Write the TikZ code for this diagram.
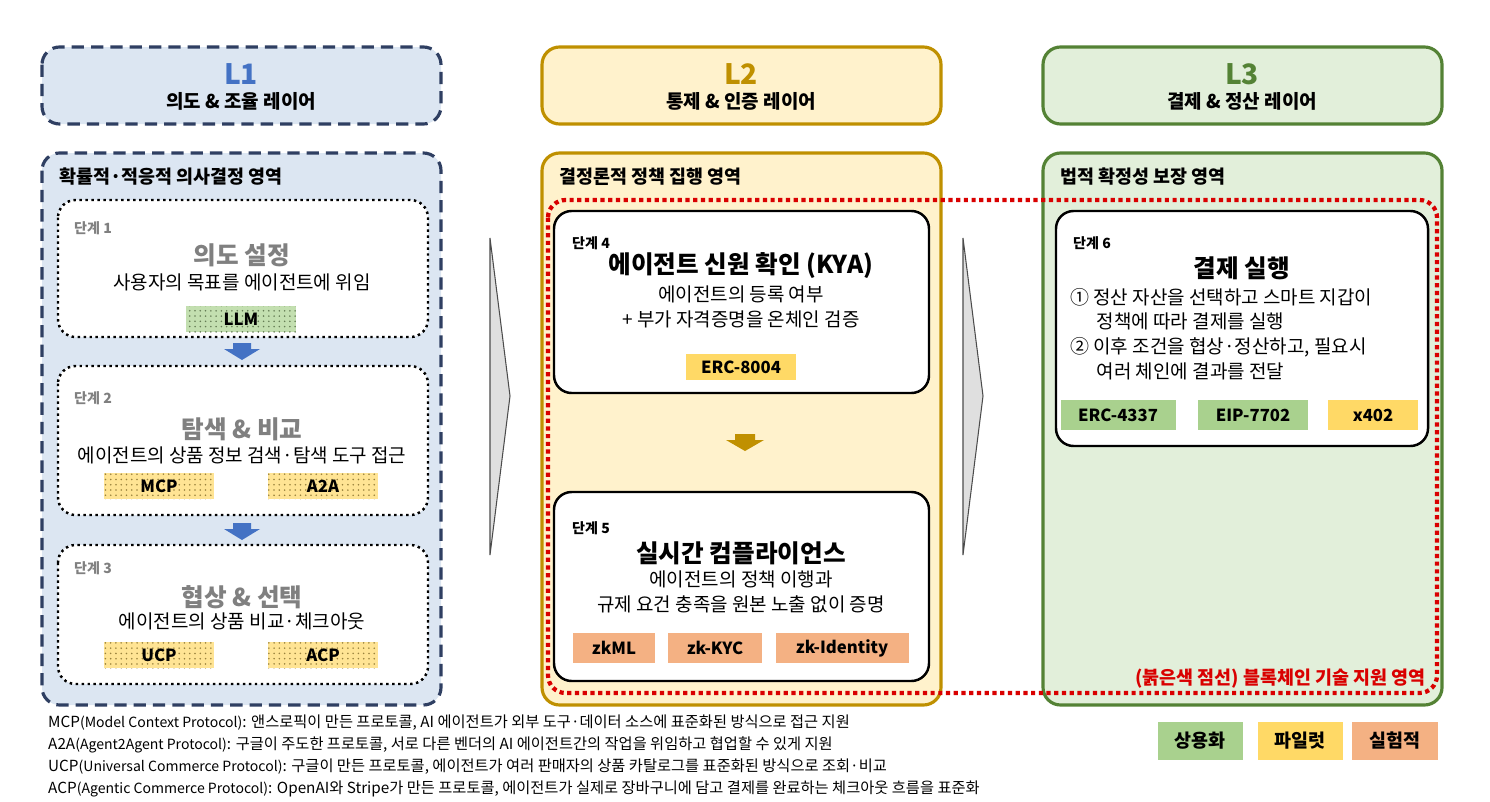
\documentclass[tikz,border=0pt]{standalone}
\usepackage{fontspec}
\setmainfont{Noto Sans CJK KR}
\usetikzlibrary{positioning,patterns,arrows.meta}
\definecolor{navy}{HTML}{2F3F62}
\definecolor{lblue}{HTML}{DCE6F2}
\definecolor{tblue}{HTML}{4472C4}
\definecolor{gold}{HTML}{BF9000}
\definecolor{lyellow}{HTML}{FFF2CC}
\definecolor{dgreen}{HTML}{548235}
\definecolor{lgreen}{HTML}{E2EFDA}
\definecolor{tgreen}{HTML}{A9D18E}
\definecolor{tyellow}{HTML}{FFD966}
\definecolor{tsalmon}{HTML}{F4B183}
\definecolor{agold}{HTML}{C09000}
\tikzset{
  hdr/.style={rounded corners=10pt,line width=1.8pt},
  stagebox/.style={rounded corners=10pt,fill=white},
  tag/.style={minimum height=0.52cm,font=\fontsize{9.5}{10}\selectfont\bfseries,inner sep=0pt},
  stepno/.style={anchor=west,font=\fontsize{8}{8}\selectfont\bfseries},
  stitle/.style={font=\fontsize{14}{15}\selectfont\bfseries},
  body/.style={font=\fontsize{10.8}{12}\selectfont},
  area/.style={anchor=west,font=\fontsize{10.5}{11}\selectfont\bfseries},
  note/.style={anchor=west,font=\fontsize{8.7}{9}\selectfont},
}
\begin{document}
\begin{tikzpicture}[x=0.02cm,y=-0.02cm]
  \useasboundingbox (0,0) rectangle (1490,801);

  % layer headers
  \draw[hdr,navy,dashed,dash pattern=on 7pt off 4pt,fill=lblue] (42,47) rectangle (441,124);
  \draw[hdr,gold,fill=lyellow] (542,47) rectangle (941,124);
  \draw[hdr,dgreen,fill=lgreen] (1043,47) rectangle (1442,124);
  \foreach \n/\x/\c/\t in {1/241/tblue/의도 \& 조율 레이어,2/741/gold/통제 \& 인증 레이어,3/1242/dgreen/결제 \& 정산 레이어} {
    \node[text=\c,font=\fontsize{16}{17}\selectfont\bfseries] (lay\n) at (\x,74) {L\n};
    \node[font=\fontsize{10.8}{11}\selectfont\bfseries] (layname\n) at (\x,101) {\t};
  }

  % areas
  \draw[hdr,navy,dashed,dash pattern=on 7pt off 4pt,fill=lblue] (42,153) rectangle (441,705);
  \draw[hdr,gold,fill=lyellow] (542,153) rectangle (941,705);
  \draw[hdr,dgreen,fill=lgreen] (1043,153) rectangle (1442,705);
  \node[area] (area1) at (53,177) {확률적·적응적 의사결정 영역};
  \node[area] (area2) at (553,177) {결정론적 정책 집행 영역};
  \node[area] (area3) at (1054,177) {법적 확정성 보장 영역};

  % L1 stages
  \draw[stagebox,dotted,line width=1.4pt] (58,200) rectangle (428,337);
  \draw[stagebox,dotted,line width=1.4pt] (58,366) rectangle (428,515);
  \draw[stagebox,dotted,line width=1.4pt] (58,545) rectangle (428,684);
  \node[stepno,text=gray] (s1) at (68,228) {단계 1};
  \node[stitle,text=gray] (t1) at (242,255) {의도 설정};
  \node[body] (b1) at (242,282) {사용자의 목표를 에이전트에 위임};
  \node[tag,fill=tgreen!70,minimum width=2.2cm,postaction={pattern=dots,pattern color=tgreen!60!black}] (llm) at (241,319) {LLM};
  \node[stepno,text=gray] (s2) at (68,398) {단계 2};
  \node[stitle,text=gray] (t2) at (242,429) {탐색 \& 비교};
  \node[body] (b2) at (242,455) {에이전트의 상품 정보 검색·탐색 도구 접근};
  \node[tag,fill=tyellow!70,minimum width=2.2cm,postaction={pattern=dots,pattern color=tyellow!60!black}] (mcp) at (159,486) {MCP};
  \node[tag,fill=tyellow!70,minimum width=2.2cm,postaction={pattern=dots,pattern color=tyellow!60!black}] (a2a) at (323,486) {A2A};
  \node[stepno,text=gray] (s3) at (68,568) {단계 3};
  \node[stitle,text=gray] (t3) at (242,597) {협상 \& 선택};
  \node[body] (b3) at (242,621) {에이전트의 상품 비교·체크아웃};
  \node[tag,fill=tyellow!70,minimum width=2.2cm,postaction={pattern=dots,pattern color=tyellow!60!black}] (ucp) at (159,655) {UCP};
  \node[tag,fill=tyellow!70,minimum width=2.2cm,postaction={pattern=dots,pattern color=tyellow!60!black}] (acp) at (323,655) {ACP};
  \foreach \y in {343,523} {
    \fill[tblue] (233,\y) rectangle (251,\y+6) (224,\y+6) -- (260,\y+6) -- (242,\y+17) -- cycle;
  }

  % L2 stages
  \draw[stagebox,line width=1.4pt] (554,211) rectangle (929,393);
  \node[stepno] (s4) at (566,243) {단계 4};
  \node[stitle] (t4) at (741,266) {에이전트 신원 확인 (KYA)};
  \node[body] (b4a) at (741,294) {에이전트의 등록 여부};
  \node[body] (b4b) at (741,319) {+ 부가 자격증명을 온체인 검증};
  \node[tag,fill=tyellow,minimum width=2.2cm] (erc8004) at (741,367) {ERC-8004};
  \fill[agold] (735,434) rectangle (755,440) (726,440) -- (764,440) -- (745,451) -- cycle;
  \draw[stagebox,line width=1.4pt] (554,492) rectangle (929,681);
  \node[stepno] (s5) at (566,528) {단계 5};
  \node[stitle] (t5) at (741,553) {실시간 컴플라이언스};
  \node[body] (b5a) at (741,579) {에이전트의 정책 이행과};
  \node[body] (b5b) at (741,604) {규제 요건 충족을 원본 노출 없이 증명};
  \node[tag,fill=tsalmon,minimum width=1.64cm,minimum height=0.6cm] (zkml) at (614,648) {zkML};
  \node[tag,fill=tsalmon,minimum width=1.88cm,minimum height=0.6cm] (zkkyc) at (715,648) {zk-KYC};
  \node[tag,fill=tsalmon,minimum width=2.66cm,minimum height=0.6cm] (zkid) at (842,648) {zk-Identity};

  % L3 stage
  \draw[stagebox,line width=1.4pt] (1056,211) rectangle (1428,446);
  \node[stepno] (s6) at (1067,243) {단계 6};
  \node[stitle] (t6) at (1242,268) {결제 실행};
  \node[body,anchor=west,align=left] (b6) at (1064,334) {① 정산 자산을 선택하고 스마트 지갑이\\[2pt]\hspace*{1.4em}정책에 따라 결제를 실행\\[2pt]② 이후 조건을 협상·정산하고, 필요시\\[2pt]\hspace*{1.4em}여러 체인에 결과를 전달};
  \node[tag,fill=tgreen,minimum width=2.3cm,minimum height=0.6cm] (erc4337) at (1118,415) {ERC-4337};
  \node[tag,fill=tgreen,minimum width=2.2cm,minimum height=0.6cm] (eip7702) at (1253,415) {EIP-7702};
  \node[tag,fill=tyellow,minimum width=1.8cm,minimum height=0.6cm] (x402) at (1373,415) {x402};

  % blockchain region
  \draw[red!85!black,line width=2.4pt,dotted,rounded corners=10pt] (548,200) rectangle (1437,693);
  \node[anchor=east,text=red!85!black,font=\fontsize{10.5}{11}\selectfont\bfseries] (chain) at (1432,679) {(붉은색 점선) 블록체인 기술 지원 영역};

  % flow arrows
  \foreach \x in {490,963} {
    \draw[fill=gray!25,draw=black!70,line width=0.6pt] (\x,238) -- (\x+20,396) -- (\x,555) -- cycle;
  }

  % legend
  \node[tag,fill=tgreen,minimum width=1.7cm,minimum height=0.76cm,font=\fontsize{10.5}{11}\selectfont\bfseries] (lgcom) at (1200,741) {상용화};
  \node[tag,fill=tyellow,minimum width=1.7cm,minimum height=0.76cm,font=\fontsize{10.5}{11}\selectfont\bfseries] (lgpil) at (1300,741) {파일럿};
  \node[tag,fill=tsalmon,minimum width=1.72cm,minimum height=0.76cm,font=\fontsize{10.5}{11}\selectfont\bfseries] (lgexp) at (1395,741) {실험적};

  % notes
  \node[note] (n1) at (42,723) {MCP{\fontsize{8}{8}\selectfont(Model Context Protocol)}: 앤스로픽이 만든 프로토콜, AI 에이전트가 외부 도구·데이터 소스에 표준화된 방식으로 접근 지원};
  \node[note] (n2) at (42,745) {A2A{\fontsize{8}{8}\selectfont(Agent2Agent Protocol)}: 구글이 주도한 프로토콜, 서로 다른 벤더의 AI 에이전트간의 작업을 위임하고 협업할 수 있게 지원};
  \node[note] (n3) at (42,767) {UCP{\fontsize{8}{8}\selectfont(Universal Commerce Protocol)}: 구글이 만든 프로토콜, 에이전트가 여러 판매자의 상품 카탈로그를 표준화된 방식으로 조회·비교};
  \node[note] (n4) at (42,789) {ACP{\fontsize{8}{8}\selectfont(Agentic Commerce Protocol)}: OpenAI와 Stripe가 만든 프로토콜, 에이전트가 실제로 장바구니에 담고 결제를 완료하는 체크아웃 흐름을 표준화};
\end{tikzpicture}
\end{document}
